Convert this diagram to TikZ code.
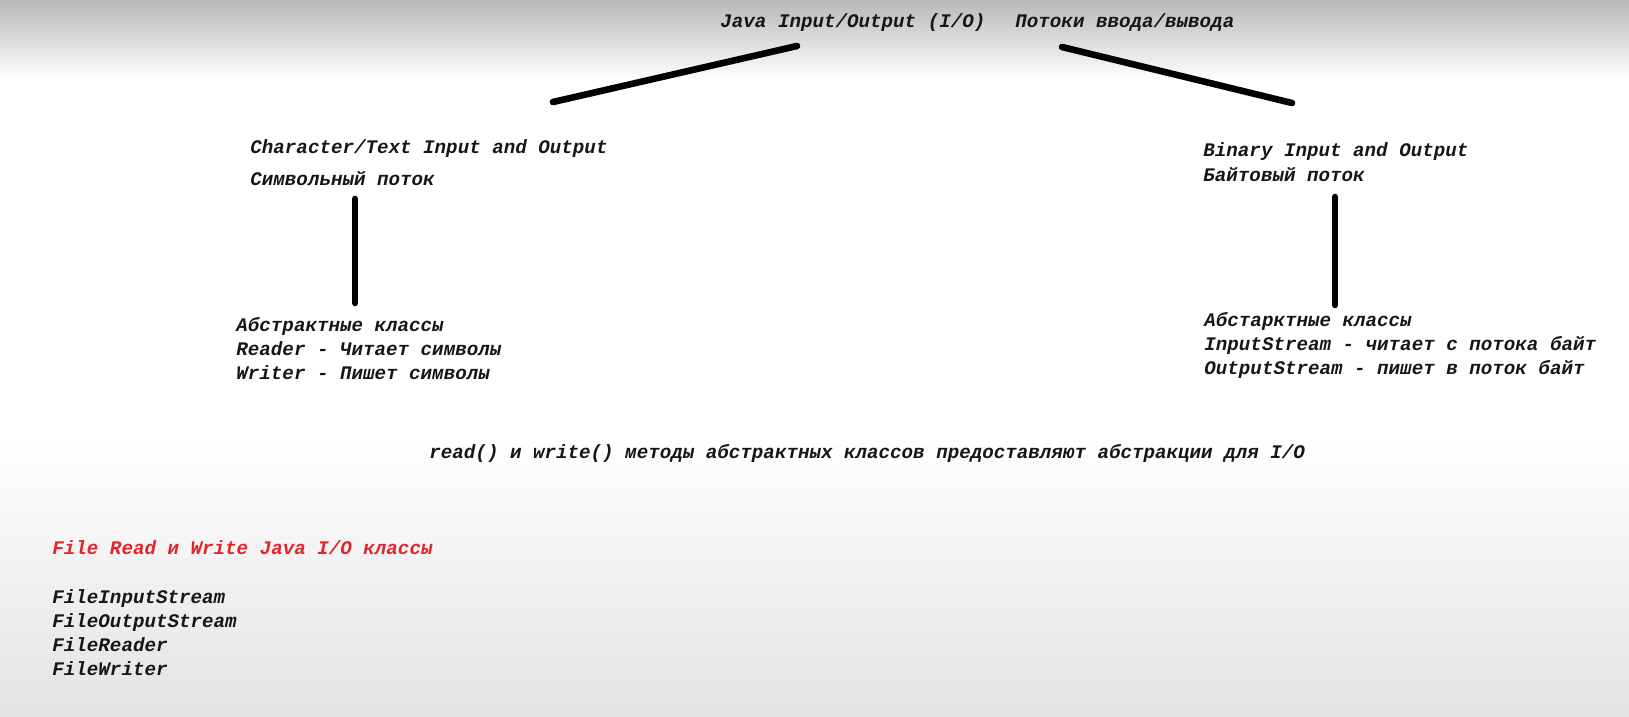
\documentclass[tikz,border=0pt]{standalone}
\usepackage{fontspec}
\newfontfamily\iofont{Liberation Mono}
\usepackage{xcolor}
\usepackage{tikz}
\usetikzlibrary{positioning}

\definecolor{ioink}{RGB}{22,22,22}
\definecolor{iored}{RGB}{226,36,44}

\begin{document}
\begin{tikzpicture}[
    x=0.5pt, y=-0.5pt,
    every node/.style={inner sep=0pt, font=\iofont\bfseries\itshape\fontsize{9.6}{12}\selectfont, text=ioink},
    txt/.style={anchor=base west},
    block/.style={anchor=base west, align=left},
    redtxt/.style={anchor=base west, text=iored},
    branch/.style={line width=3.3pt, line cap=round, draw=black}
]
% backdrop of the slide
\useasboundingbox (0,0) rectangle (1629,717);
\fill[top color=gray!55, bottom color=white] (0,0) rectangle (1629,80);
\fill[top color=white, bottom color=gray!22] (0,440) rectangle (1629,717);

\node[txt] (title) at (720,28) {Java Input/Output (I/O)};
\node[txt] (titleru) at (1015,28) {Потоки ввода/вывода};

\node[txt] (chartext) at (250,154) {Character/Text Input and Output};
\node[txt] (charru) at (250,185) {Символьный поток};
% base of a block is its last line
\node[block] (charabs) at (236,379) {Абстрактные классы\\Reader - Читает символы\\Writer - Пишет символы};

\node[txt] (bintext) at (1203,157) {Binary Input and Output};
\node[txt] (binru) at (1203,182) {Байтовый поток};
\node[block] (binabs) at (1204,374) {Абстарктные классы\\InputStream - читает с потока байт\\OutputStream - пишет в поток байт};

\node[txt] (readwrite) at (429,458) {read() и write() методы абстрактных классов предоставляют абстракции для I/O};

\node[redtxt] (fileio) at (52,554) {File Read и Write Java I/O классы};
\node[block] (fileclasses) at (52,675) {FileInputStream\\FileOutputStream\\FileReader\\FileWriter};

\draw[branch] ([shift={(77,18)}]title.base west) -- ([shift={(303,-52)}]chartext.base west);
\draw[branch] ([shift={(47,19)}]titleru.base west) -- ([shift={(89,-54)}]bintext.base west);
\draw[branch] ([shift={(105,14)}]charru.base west) -- ([shift={(119,-76)}]charabs.base west);
\draw[branch] ([shift={(132,15)}]binru.base west) -- ([shift={(131,-69)}]binabs.base west);
\end{tikzpicture}
\end{document}
